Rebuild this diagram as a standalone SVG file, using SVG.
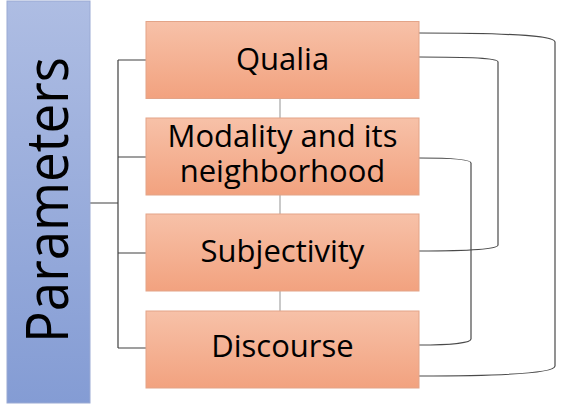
<svg xmlns="http://www.w3.org/2000/svg" width="564" height="404" viewBox="0 0 564 404">
<defs>
<linearGradient id="gBlue" x1="0" y1="0" x2="0" y2="1">
<stop offset="0" stop-color="#aebde3"/>
<stop offset="1" stop-color="#849cd4"/>
</linearGradient>
<linearGradient id="gOrange" x1="0" y1="0" x2="0" y2="1">
<stop offset="0" stop-color="#f7c1a8"/>
<stop offset="1" stop-color="#f2a27f"/>
</linearGradient>
</defs>
<style>
.box{fill:url(#gOrange);stroke:#e3a488;stroke-width:1}
.lbl{font-family:"Open Sans","Liberation Sans",sans-serif;font-size:31px;fill:#000;text-anchor:middle}
.tree{fill:none;stroke:#404040;stroke-width:1.2}
.link{fill:none;stroke:#a6a6a6;stroke-width:1.2}
.arc{fill:none;stroke:#4a4a4a;stroke-width:1.2}
</style>
<rect width="564" height="404" fill="#ffffff"/>
<g id="connectors">
<path class="tree" d="M90,203 H118 M118,60 V348 M118,60 H146 M118,157 H146 M118,253 H146 M118,348 H146"/>
<path class="link" d="M280,98.5 V118 M280,195 V214 M280,291 V311"/>
<path class="arc" d="M419,33 C500,33 555,35 555,42 V366 C555,373 500,376 419,376"/>
<path class="arc" d="M419,57 C470,57 498,58 498,62 V245 C498,249 470,251 419,251"/>
<path class="arc" d="M419,158 C450,158 471,159 471,163 V339 C471,343 450,345 419,345"/>
</g>
<g id="parameters">
<rect x="7" y="1" width="83" height="402" fill="url(#gBlue)" stroke="#9aaad4" stroke-width="1"/>
<text transform="translate(68,200) rotate(-90)" font-family="'Open Sans','Liberation Sans',sans-serif" font-size="58" text-anchor="middle" textLength="286" lengthAdjust="spacingAndGlyphs" fill="#000">Parameters</text>
</g>
<g id="qualia">
<rect class="box" x="146" y="21.5" width="273" height="77"/>
<text class="lbl" x="282.5" y="69.5">Qualia</text>
</g>
<g id="modality">
<rect class="box" x="146" y="118" width="273" height="77"/>
<text class="lbl" x="282.5" y="147">Modality and its</text>
<text class="lbl" x="282.5" y="181.5">neighborhood</text>
</g>
<g id="subjectivity">
<rect class="box" x="146" y="214" width="273" height="77"/>
<text class="lbl" x="282.5" y="262">Subjectivity</text>
</g>
<g id="discourse">
<rect class="box" x="146" y="311" width="273" height="77"/>
<text class="lbl" x="282.5" y="357">Discourse</text>
</g>
</svg>
